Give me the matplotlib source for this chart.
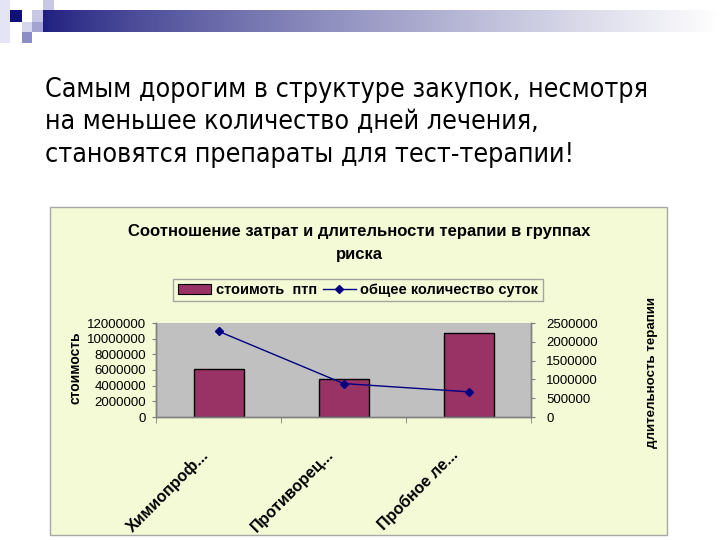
import numpy as np
import matplotlib
matplotlib.use("Agg")
import matplotlib.pyplot as plt
from matplotlib.patches import Rectangle, Patch
from matplotlib.lines import Line2D

# Data
categories = ["Химиопроф...", "Противорец...", "Пробное ле..."]
cost = [6100000, 4800000, 10700000]          # стоимоть птп (left axis)
days = [2280000, 890000, 670000]             # общее количество суток (right axis)
cost_ticks = [0, 2000000, 4000000, 6000000, 8000000, 10000000, 12000000]
days_ticks = [0, 500000, 1000000, 1500000, 2000000, 2500000]

heading = [
    "Самым дорогим в структуре закупок, несмотря",
    "на меньшее количество дней лечения,",
    "становятся препараты для тест-терапии!",
]
chart_title = "Соотношение затрат и длительности терапии в группах\nриска"

W, H = 720, 540
BAR_COLOR = "#993366"
LINE_COLOR = "#000080"
CHART_BG = "#F4FAD6"
PLOT_BG = "#C0C0C0"

plt.rcParams["font.family"] = ["Liberation Sans", "DejaVu Sans"]

fig = plt.figure(figsize=(7.2, 5.4), dpi=100)
fig.patch.set_facecolor("white")


def px_rect(x0, y0, x1, y1):
    """figure fraction rect from pixel box (top-left origin)"""
    return [x0 / W, 1 - y1 / H, (x1 - x0) / W, (y1 - y0) / H]


# Slide decoration: gradient bar and small squares
grad_ax = fig.add_axes(px_rect(43, 10, 720, 32))
t = np.linspace(0, 1, 256)
start = np.array([0.12, 0.12, 0.50])
end = np.array([1.0, 1.0, 1.0])
grad = start[None, :] * (1 - t[:, None] ** 0.8) + end[None, :] * (t[:, None] ** 0.8)
grad_ax.imshow(grad[None, :, :], aspect="auto", extent=[0, 1, 0, 1])
grad_ax.set_axis_off()

squares = [
    (10, 10, 22, 22, "#10107A"),
    (32, 10, 43, 22, "#C8C8E6"),
    (43, 0, 54, 10, "#C8C8E6"),
    (32, 22, 43, 32, "#A4A4D2"),
    (22, 22, 32, 32, "#D6D6EE"),
    (22, 32, 32, 43, "#8C8CC6"),
    (0, 0, 10, 43, "#E4E4F4"),
]
for x0, y0, x1, y1, c in squares:
    fig.patches.append(Rectangle((x0 / W, 1 - y1 / H), (x1 - x0) / W, (y1 - y0) / H,
                                 transform=fig.transFigure, facecolor=c, edgecolor="none"))

# Slide heading
for i, line in enumerate(heading):
    fig.text(45 / W, 1 - (97 + 32.5 * i) / H, line, fontsize=19.2, va="baseline",
             family="DejaVu Sans", fontstretch="condensed", color="black")

# Chart area box
fig.patches.append(Rectangle((50 / W, 1 - 535 / H), 617 / W, 328 / H, transform=fig.transFigure,
                             facecolor=CHART_BG, edgecolor="#A8A8A8", linewidth=1))

fig.text(359 / W, 1 - 243 / H, chart_title, ha="center", va="center", fontsize=12,
         fontweight="bold", linespacing=1.6)

# Plot area
ax = fig.add_axes(px_rect(156, 323, 531, 417))
ax.set_facecolor(PLOT_BG)
x = np.arange(len(categories))
ax.bar(x, cost, width=0.4, color=BAR_COLOR, edgecolor="black", linewidth=1, zorder=2)
ax.set_xlim(-0.5, len(categories) - 0.5)
ax.set_ylim(0, 12000000)
ax.set_yticks(cost_ticks)
ax.set_yticklabels([str(v) for v in cost_ticks], fontsize=9.5)
ax.set_xticks(x)
ax.set_xticklabels([])
ax.set_xticks(np.arange(-0.5, len(categories)), minor=True)
ax.tick_params(axis="x", which="major", length=0)
ax.tick_params(axis="x", which="minor", length=4, color="#808080", direction="out")
ax.tick_params(axis="y", length=3, color="#808080", pad=4)

ax2 = ax.twinx()
ax2.plot(x, days, color=LINE_COLOR, linewidth=1, marker="D", markersize=4, zorder=3)
ax2.set_ylim(0, 2500000)
ax2.set_yticks(days_ticks)
ax2.set_yticklabels([str(v) for v in days_ticks], fontsize=9.5)
ax2.tick_params(axis="y", length=3, color="#808080", pad=8)

# keep the plot above the chart box patch
ax.set_zorder(5)
ax2.set_zorder(6)

for a in (ax, ax2):
    a.spines["top"].set_visible(False)
    for s in ("left", "right", "bottom"):
        a.spines[s].set_color("#808080")
        a.spines[s].set_linewidth(1)

# Rotated category labels
for i, label in enumerate(categories):
    ax.annotate(label, xy=(i, 0), xycoords=ax.get_xaxis_transform(), xytext=(-18, -30),
                textcoords="offset pixels", rotation=45, ha="right", va="top",
                rotation_mode="anchor", fontsize=11.5, fontweight="bold", annotation_clip=False)

fig.text(75 / W, 1 - 368 / H, "стоимость", rotation=90, ha="center", va="center",
         fontsize=10, fontweight="bold")
fig.text(652 / W, 1 - 373 / H, "длительность терапии", rotation=90, ha="center", va="center",
         fontsize=9.6, fontweight="bold")

# Legend
handles = [
    Patch(facecolor=BAR_COLOR, edgecolor="black", linewidth=0.8),
    Line2D([0], [0], color=LINE_COLOR, linewidth=1, marker="D", markersize=4),
]
leg = fig.legend(handles, ["стоимоть  птп", "общее количество суток"], loc="center",
                 bbox_to_anchor=(358 / W, 1 - 290 / H), ncol=2, frameon=True, fancybox=False,
                 prop={"weight": "bold", "size": 10.5}, handlelength=2.3, handletextpad=0.3,
                 columnspacing=0.4, borderpad=0.3)
leg.get_frame().set_facecolor(CHART_BG)
leg.get_frame().set_edgecolor("#909090")
leg.get_frame().set_linewidth(1)

fig.savefig("out.png", dpi=100)
